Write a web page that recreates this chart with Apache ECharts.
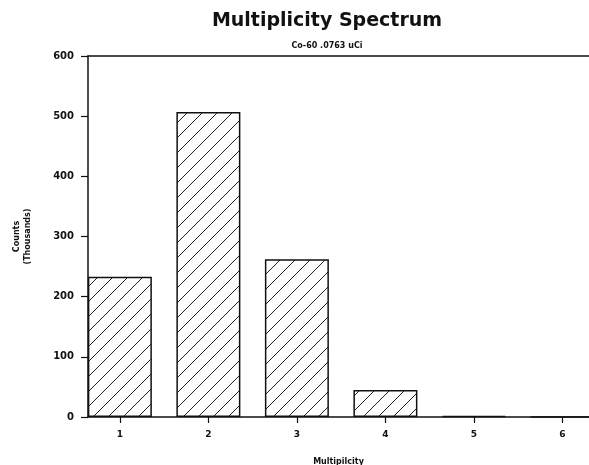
<!DOCTYPE html>
<html><head><meta charset="utf-8">
<script src="https://cdn.jsdelivr.net/npm/echarts@6/dist/echarts.min.js"></script>
<style>html,body{margin:0;padding:0;background:#fff}#c{width:589px;height:465px}</style>
</head><body><div id="c"></div>
<script>
const categories = [1, 2, 3, 4, 5, 6];
const counts = [233, 507, 262, 45, 2, 0.4];
const yTicks = [0, 100, 200, 300, 400, 500, 600];

function hatch() {
  const s = 15, c = document.createElement('canvas');
  c.width = s; c.height = s;
  const g = c.getContext('2d');
  g.fillStyle = '#fff'; g.fillRect(0, 0, s, s);
  g.strokeStyle = '#222'; g.lineWidth = 1;
  g.beginPath();
  g.moveTo(0, s); g.lineTo(s, 0);
  g.moveTo(-2, 2); g.lineTo(2, -2);
  g.moveTo(s - 2, s + 2); g.lineTo(s + 2, s - 2);
  g.stroke();
  return c;
}

const chart = echarts.init(document.getElementById('c'));
const font = 'DejaVu Sans';
chart.setOption({
  animation: false,
  title: {
    text: 'Multiplicity Spectrum',
    subtext: 'Co-60 .0763 uCi',
    left: 322, top: 7, textAlign: 'center',
    itemGap: 11,
    textStyle: { fontFamily: font, fontWeight: 'bold', fontSize: 19, color: '#111' },
    subtextStyle: { fontFamily: font, fontWeight: 'bold', fontSize: 8, color: '#111' }
  },
  grid: { left: 88, right: 0, top: 56, bottom: 48, outerBoundsMode: 'none', containLabel: false },
  xAxis: [{
    type: 'value', min: 0.64, max: 6.3,
    splitLine: { show: false },
    axisLine: { lineStyle: { color: '#111', width: 1.5 } },
    axisTick: { show: true, customValues: categories, length: 6, lineStyle: { color: '#111', width: 1.2 } },
    axisLabel: { customValues: categories, margin: 13, fontFamily: font, fontWeight: 'bold', fontSize: 9, color: '#111' },
    name: 'Multipilcity', nameLocation: 'middle', nameGap: 41,
    nameTextStyle: { fontFamily: font, fontWeight: 'bold', fontSize: 8, color: '#111' }
  }, {
    type: 'value', min: 0.64, max: 6.3, position: 'top',
    splitLine: { show: false }, axisTick: { show: false }, axisLabel: { show: false },
    axisLine: { show: true, lineStyle: { color: '#111', width: 1.5 } }
  }],
  yAxis: {
    type: 'value', min: 0, max: 600, interval: 100,
    splitLine: { show: false },
    axisLine: { show: true, lineStyle: { color: '#111', width: 1.5 } },
    axisTick: { show: true, length: 7, lineStyle: { color: '#111', width: 1.2 } },
    axisLabel: { margin: 14, fontFamily: font, fontWeight: 'bold', fontSize: 10, color: '#111',
      formatter: v => yTicks.includes(v) ? String(v) : '' },
    name: 'Counts\n(Thousands)', nameLocation: 'middle', nameRotate: 90, nameGap: 55,
    nameTextStyle: { fontFamily: font, fontWeight: 'bold', fontSize: 8, color: '#111', lineHeight: 11, align: 'center' }
  },
  series: [{
    type: 'bar',
    data: categories.map((c, i) => [c, counts[i]]),
    barWidth: 64,
    itemStyle: { color: { image: hatch(), repeat: 'repeat' }, borderColor: '#111', borderWidth: 1.5 }
  }]
});
</script></body></html>
